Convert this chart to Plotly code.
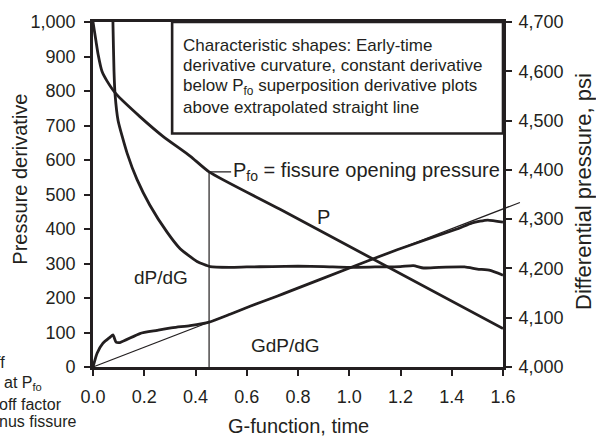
import plotly.graph_objects as go

# ---- data ----
# Differential pressure P (right axis, psi)
p_g = [0.0, 0.012, 0.02, 0.035, 0.055, 0.09, 0.183, 0.273, 0.379, 0.453, 0.73, 1.6]
p_val = [4700, 4660, 4634, 4600, 4580, 4554, 4508, 4468, 4428, 4396, 4320, 4078]

# dP/dG (left axis)
dp_g = [0.076, 0.078, 0.082, 0.086, 0.098, 0.133, 0.172, 0.222, 0.289, 0.34, 0.406, 0.457,
        0.535, 0.6, 0.7, 0.8, 0.9, 1.0, 1.1, 1.2, 1.25, 1.29, 1.35, 1.45, 1.5, 1.55, 1.6]
dp_val = [1100, 991, 857, 791, 714, 620, 543, 469, 391, 343, 306, 291,
          289, 290, 291, 292, 291, 289, 290, 291, 294, 287, 289, 290, 284, 280, 266]

# G dP/dG (left axis)
gdp_g = [0.0, 0.016, 0.039, 0.066, 0.078, 0.09, 0.105, 0.183, 0.25, 0.312, 0.379, 0.453,
         0.535, 0.613, 0.718, 0.769, 0.991, 1.187, 1.42, 1.48, 1.54, 1.6]
gdp_val = [0, 40, 69, 86, 93, 72, 71, 97, 106, 114, 120, 130,
           153, 176, 205, 220, 284, 340, 400, 418, 426, 420]

# extrapolated straight line through origin
line_g = [0.0, 1.666]
line_val = [0, 477]

# fissure opening pressure marker
pfo_g = 0.453
pfo_p = 4396
pfo_label_g = 0.539

x_ticks = [0.0, 0.2, 0.4, 0.6, 0.8, 1.0, 1.2, 1.4, 1.6]
y_ticks = list(range(0, 1001, 100))
y2_ticks = list(range(4000, 4701, 100))

X_RANGE = [0, 1.6]
Y_RANGE = [0, 1000]
Y2_RANGE = [4000, 4700]

FONT = "Liberation Sans, Arial, sans-serif"
BLACK = "#231f20"

fig = go.Figure()
fig.add_trace(go.Scatter(x=p_g, y=p_val, yaxis="y2", mode="lines",
                         line=dict(color=BLACK, width=2.8, shape="spline", smoothing=0.6),
                         showlegend=False))
fig.add_trace(go.Scatter(x=dp_g, y=dp_val, mode="lines",
                         line=dict(color=BLACK, width=2.8, shape="spline", smoothing=0.5),
                         showlegend=False))
fig.add_trace(go.Scatter(x=gdp_g, y=gdp_val, mode="lines",
                         line=dict(color=BLACK, width=2.8, shape="spline", smoothing=0.5),
                         showlegend=False))
# vertical Pfo line + leader
fig.add_trace(go.Scatter(x=[pfo_g, pfo_g, pfo_label_g], y=[Y2_RANGE[0], pfo_p, pfo_p], yaxis="y2",
                         mode="lines", line=dict(color=BLACK, width=1.2), showlegend=False))

# extrapolated straight line (extends past the right axis -> paper coords computed from data)
def px(g):
    return (g - X_RANGE[0]) / (X_RANGE[1] - X_RANGE[0])

def py(v):
    return (v - Y_RANGE[0]) / (Y_RANGE[1] - Y_RANGE[0])

shapes = [
    dict(type="line", xref="paper", yref="paper",
         x0=px(line_g[0]), y0=py(line_val[0]), x1=px(line_g[1]), y1=py(line_val[1]),
         line=dict(color=BLACK, width=1.2)),
    dict(type="rect", xref="paper", yref="paper", x0=0.193, y0=0.677, x1=1.0, y1=1.0,
         line=dict(color=BLACK, width=2.6), fillcolor="white", layer="above"),
]

annotations = []
box_lines = ["Characteristic shapes: Early-time",
             "derivative curvature, constant derivative",
             "below P<sub>fo</sub> superposition derivative plots",
             "above extrapolated straight line"]
box_y = [0.932, 0.875, 0.812, 0.752]
for t, yy in zip(box_lines, box_y):
    annotations.append(dict(text=t, xref="paper", yref="paper", x=0.214, y=yy,
                            xanchor="left", yanchor="middle", showarrow=False,
                            font=dict(size=17, color=BLACK, family=FONT)))

annotations.append(dict(text="P<sub>fo</sub> = fissure opening pressure", x=pfo_label_g, y=pfo_p,
                        xref="x", yref="y2", xanchor="left", yanchor="middle", showarrow=False,
                        font=dict(size=20, color=BLACK, family=FONT)))
annotations.append(dict(text="P", x=0.901, y=435, xref="x", yref="y", showarrow=False,
                        font=dict(size=20, color=BLACK, family=FONT)))
annotations.append(dict(text="dP/dG", x=0.265, y=258, xref="x", yref="y", showarrow=False,
                        font=dict(size=19, color=BLACK, family=FONT)))
annotations.append(dict(text="GdP/dG", x=0.753, y=62, xref="x", yref="y", showarrow=False,
                        font=dict(size=19, color=BLACK, family=FONT)))

# axis titles
annotations.append(dict(text="G-function, time", xref="paper", yref="paper", x=0.5, y=-0.172,
                        xanchor="center", yanchor="middle", showarrow=False,
                        font=dict(size=20, color=BLACK, family=FONT)))
annotations.append(dict(text="Pressure derivative", xref="paper", yref="paper", x=-0.178, y=0.543,
                        xanchor="center", yanchor="middle", showarrow=False, textangle=-90,
                        font=dict(size=20, color=BLACK, family=FONT)))
annotations.append(dict(text="Differential pressure, psi", xref="paper", yref="paper", x=1.195,
                        y=0.51, xanchor="center", yanchor="middle", showarrow=False,
                        textangle=-90, font=dict(size=22, color=BLACK, family=FONT)))

# cut-off side note at bottom left
frag_text = ["ff", "at P<sub>fo</sub>", "off factor", "nus fissure"]
frag_x = [-0.21, -0.12, -0.07, -0.036]
frag_y = [0.012, -0.048, -0.108, -0.159]
for t, xx, yy in zip(frag_text, frag_x, frag_y):
    annotations.append(dict(text=t, xref="paper", yref="paper", x=xx, y=yy,
                            xanchor="right", yanchor="middle", showarrow=False,
                            font=dict(size=16, color=BLACK, family=FONT)))

axis_common = dict(showline=True, linecolor=BLACK, linewidth=2.8, ticks="outside",
                   ticklen=6, tickwidth=2.2, tickcolor=BLACK, showgrid=False, zeroline=False,
                   tickfont=dict(size=18, color=BLACK, family=FONT))

fig.update_layout(
    width=596, height=437,
    margin=dict(l=93, r=93, t=17, b=70),
    paper_bgcolor="white", plot_bgcolor="white",
    font=dict(family=FONT, color=BLACK),
    xaxis=dict(range=X_RANGE, tickvals=x_ticks, tickformat=".1f", mirror=True,
               ticklabelstandoff=5, **axis_common),
    yaxis=dict(range=Y_RANGE, tickvals=y_ticks, tickformat=",.0f", ticklabelstandoff=5,
               **axis_common),
    yaxis2=dict(range=Y2_RANGE, tickvals=y2_ticks, tickformat=",.0f", overlaying="y",
                side="right", ticklabelstandoff=3, **axis_common),
    shapes=shapes,
    annotations=annotations,
)

fig.write_html("out.html")
